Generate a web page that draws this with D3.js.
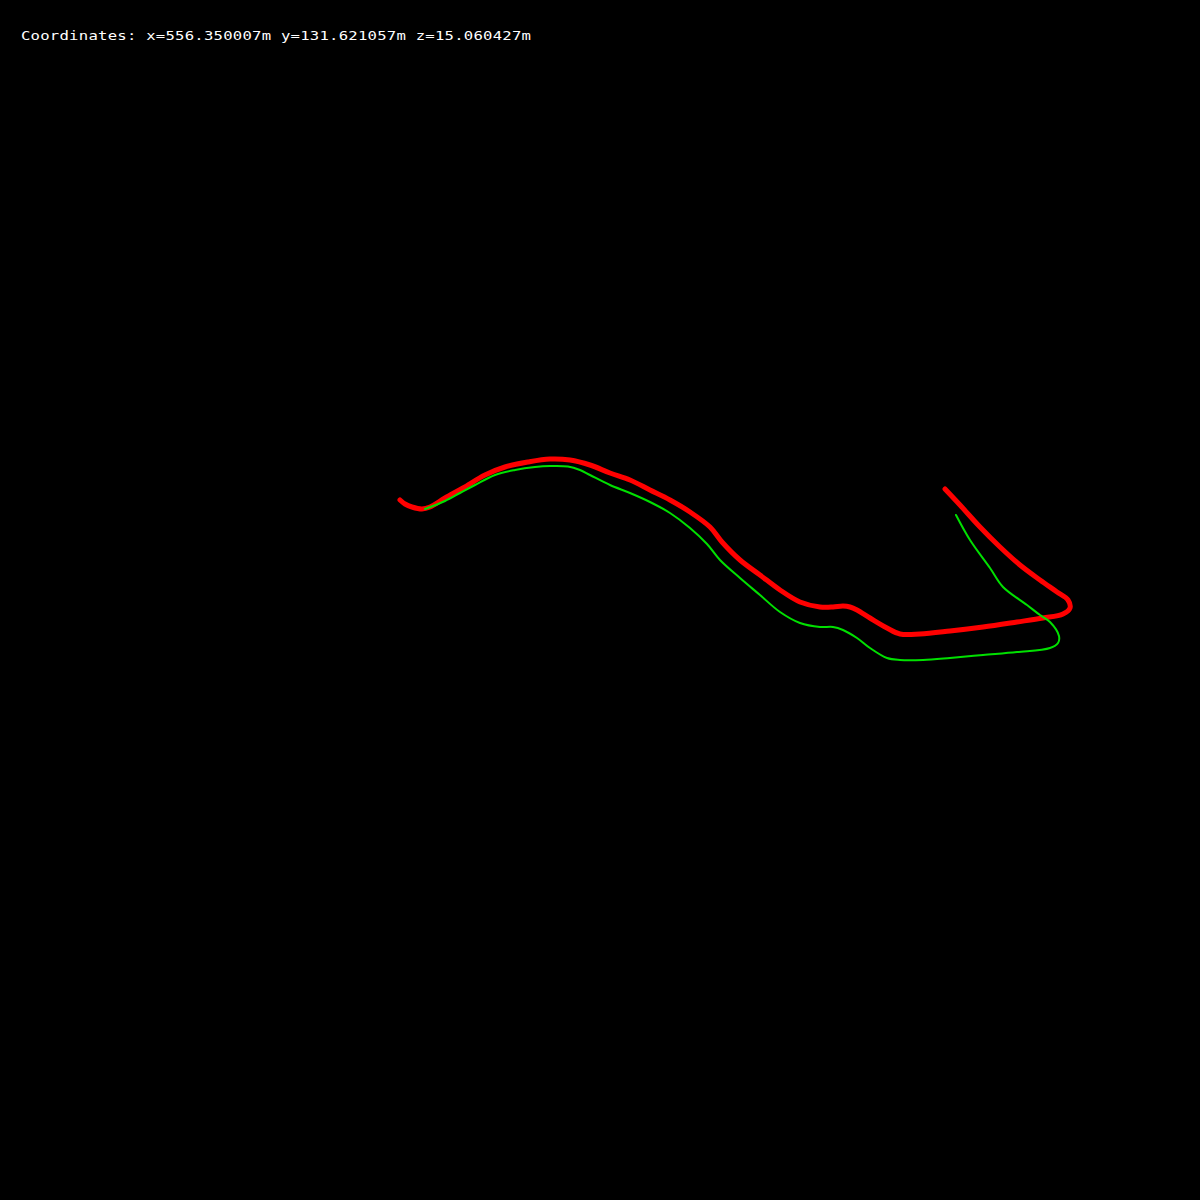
<!DOCTYPE html>
<html>
<head>
<meta charset="utf-8">
<script src="https://cdn.jsdelivr.net/npm/d3@7"></script>
<style>
  html, body { margin: 0; padding: 0; background: #000; }
  svg { display: block; }
</style>
</head>
<body>
<svg id="chart" width="1200" height="1200"></svg>
<script>
// Trajectory samples in a local frame: [east, north] (m)
const estimatedTrack = [
  [-200,100],[-195,96],[-188,93],[-178,91],[-170,93],[-155,102],[-137,112],[-115,125],
  [-95,133],[-72,138],[-50,141],[-30,140],[-10,135],[10,127],[30,120],[50,110],[70,100],
  [90,88],[110,73],[122,58],[140,40],[160,25],[180,10],[200,-2],[220,-7],[233,-7],[243,-6],
  [250,-7],[257,-10],[270,-18],[287,-28],[300,-34],[320,-34],[350,-31],[383,-27],[417,-22],
  [443,-18],[463,-14],[470,-8],[468,0],[457,8],[440,20],[420,35],[400,53],[380,73],[360,95],[345,111]
];
const referenceTrack = [
  [-175,91],[-155,99],[-140,107],[-125,115],[-105,125],[-85,130],[-65,133],[-50,134],[-32,133.5],
  [-20,130],[-10,125],[10,115],[30,107],[50,98],[70,87],[90,72],[107,56],[120,40],[140,22],[160,5],
  [180,-12],[200,-23],[220,-27],[233,-27],[243,-30],[257,-38],[270,-48],[287,-58],[300,-60],
  [323,-60],[350,-58],[383,-55],[417,-52],[450,-48],[458,-43],[459,-36],[450,-22],[440,-15],
  [427,-5],[403,13],[390,32],[370,60],[356,85]
];
const coordLabel = "Coordinates: x=556.350007m y=131.621057m z=15.060427m";

const W = 1200, H = 1200;
const svg = d3.select("#chart");
svg.append("rect").attr("width", W).attr("height", H).attr("fill", "#000");

const x = d3.scaleLinear().domain([-600, 600]).range([0, W]);
const y = d3.scaleLinear().domain([-600, 600]).range([H, 0]);

const line = d3.line()
  .x(d => x(d[0]))
  .y(d => y(d[1]))
  .curve(d3.curveCatmullRom.alpha(0.5));

svg.append("path")
  .datum(estimatedTrack)
  .attr("d", line)
  .attr("fill", "none")
  .attr("stroke", "#ff0000")
  .attr("stroke-width", 5)
  .attr("stroke-linecap", "round")
  .attr("stroke-linejoin", "round");

svg.append("path")
  .datum(referenceTrack)
  .attr("d", line)
  .attr("fill", "none")
  .attr("stroke", "#00e000")
  .attr("stroke-width", 2)
  .attr("stroke-linecap", "round")
  .attr("stroke-linejoin", "round");

svg.append("text")
  .attr("transform", "translate(21,40) scale(1.25,1)")
  .attr("x", 0)
  .attr("y", 0)
  .attr("fill", "#fff")
  .attr("font-family", "DejaVu Sans Mono, monospace")
  .attr("font-size", 12.5)
  .attr("textLength", 408)
  .attr("lengthAdjust", "spacing")
  .text(coordLabel);
</script>
</body>
</html>
